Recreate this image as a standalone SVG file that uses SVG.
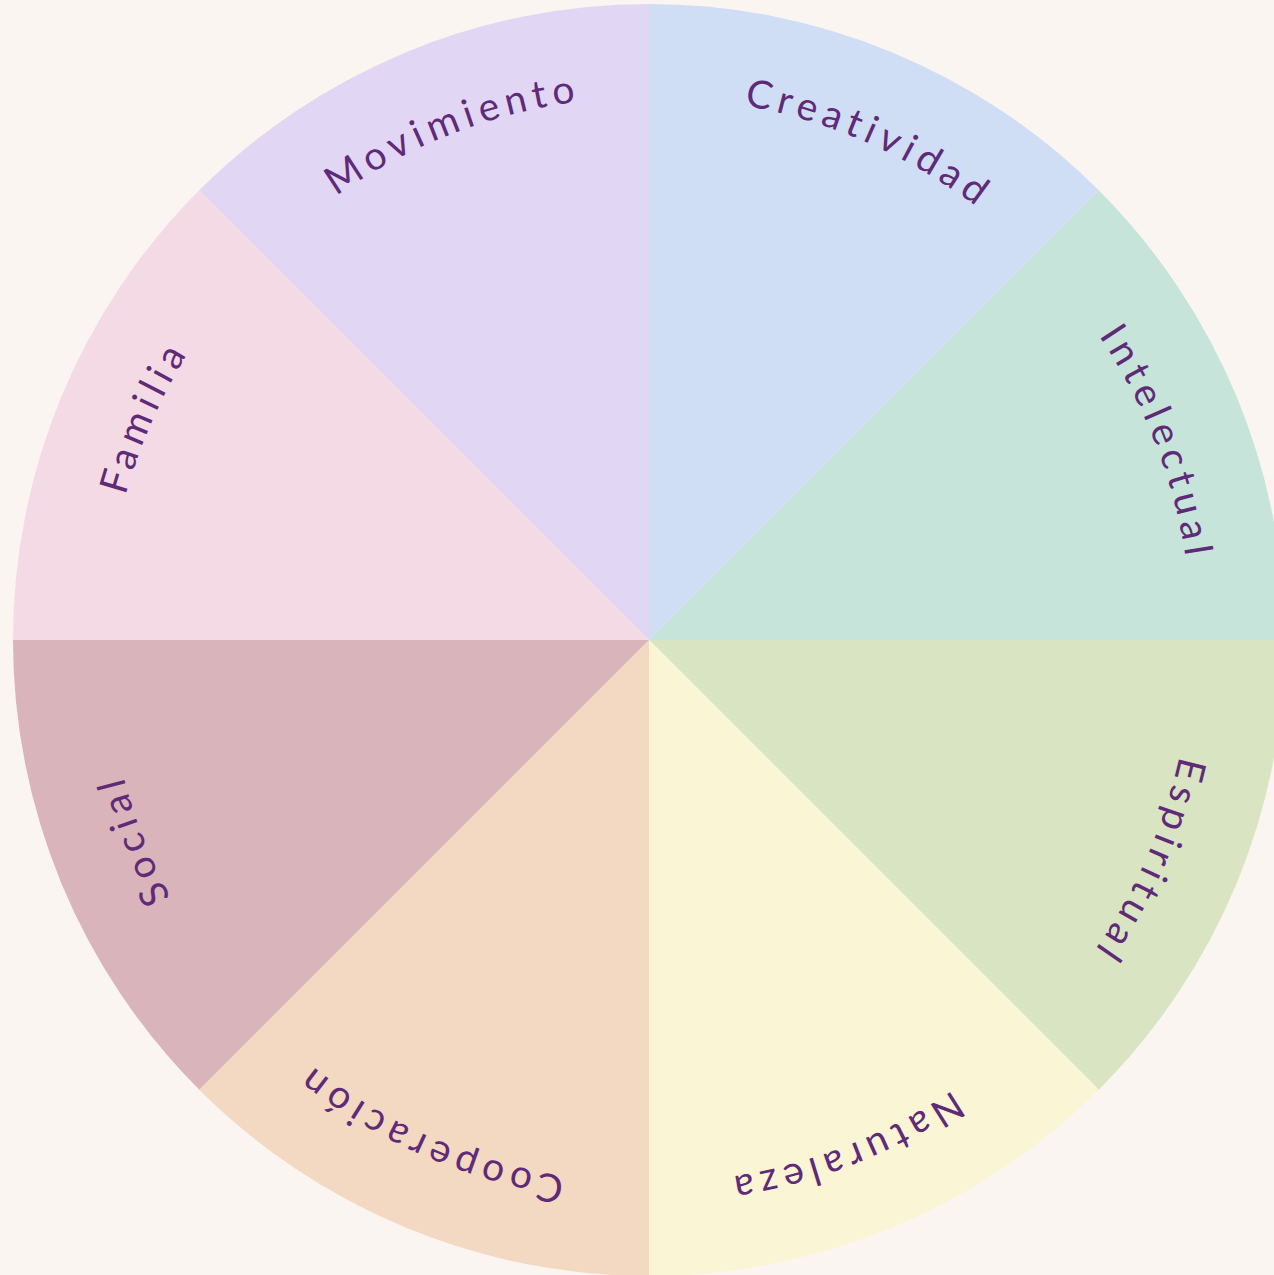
<svg xmlns="http://www.w3.org/2000/svg" xmlns:xlink="http://www.w3.org/1999/xlink" width="1274" height="1275" viewBox="0 0 1274 1275">
<style>
.lbl{font-family:Lato,"Liberation Sans",sans-serif;font-size:39px;letter-spacing:6px;fill:#5F2A78;text-anchor:middle}
</style>
<defs>
<path id="a0" d="M649,97 A543,543 0 0 1 1032.96,256.04"/>
<path id="a1" d="M1032.96,256.04 A543,543 0 0 1 1192,640"/>
<path id="a2" d="M1192,640 A543,543 0 0 1 1032.96,1023.96"/>
<path id="a3" d="M1032.96,1023.96 A543,543 0 0 1 649,1183"/>
<path id="a4" d="M649,1183 A543,543 0 0 1 265.04,1023.96"/>
<path id="a5" d="M265.04,1023.96 A543,543 0 0 1 106,640"/>
<path id="a6" d="M106,640 A543,543 0 0 1 265.04,256.04"/>
<path id="a7" d="M265.04,256.04 A543,543 0 0 1 649,97"/>
</defs>
<rect width="1274" height="1275" fill="#FAF5F1"/>
<g id="creatividad"><path d="M649,640 L649,4 A636,636 0 0 1 1098.72,190.28 Z" fill="#CFDEF5"/><text class="lbl"><textPath href="#a0" startOffset="53%">Creatividad</textPath></text></g>
<g id="intelectual"><path d="M649,640 L1098.72,190.28 A636,636 0 0 1 1285,640 Z" fill="#C6E4DA"/><text class="lbl"><textPath href="#a1" startOffset="53%">Intelectual</textPath></text></g>
<g id="espiritual"><path d="M649,640 L1285,640 A636,636 0 0 1 1098.72,1089.72 Z" fill="#D8E4C2"/><text class="lbl"><textPath href="#a2" startOffset="53%">Espiritual</textPath></text></g>
<g id="naturaleza"><path d="M649,640 L1098.72,1089.72 A636,636 0 0 1 649,1276 Z" fill="#FAF5D4"/><text class="lbl"><textPath href="#a3" startOffset="53%">Naturaleza</textPath></text></g>
<g id="cooperacion"><path d="M649,640 L649,1276 A636,636 0 0 1 199.28,1089.72 Z" fill="#F3D8C2"/><text class="lbl"><textPath href="#a4" startOffset="53%">Cooperación</textPath></text></g>
<g id="social"><path d="M649,640 L199.28,1089.72 A636,636 0 0 1 13,640 Z" fill="#D9B4BA"/><text class="lbl"><textPath href="#a5" startOffset="53%">Social</textPath></text></g>
<g id="familia"><path d="M649,640 L13,640 A636,636 0 0 1 199.28,190.28 Z" fill="#F3DAE5"/><text class="lbl"><textPath href="#a6" startOffset="53%">Familia</textPath></text></g>
<g id="movimiento"><path d="M649,640 L199.28,190.28 A636,636 0 0 1 649,4 Z" fill="#E2D6F5"/><text class="lbl"><textPath href="#a7" startOffset="53%">Movimiento</textPath></text></g>
<g id="connectors"/>
</svg>
